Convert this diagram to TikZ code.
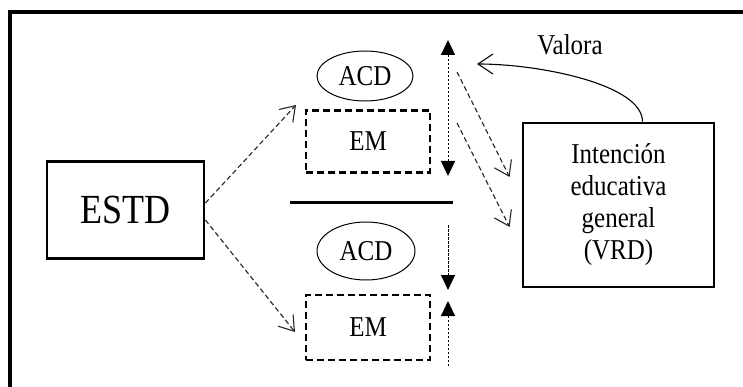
\documentclass[tikz,border=0pt]{standalone}
\usepackage{fontspec}
\setmainfont{Liberation Serif}
\usetikzlibrary{arrows.meta,calc,shapes.geometric}
\newcommand{\tall}[1]{\scalebox{1}[1.15]{#1}}
\begin{document}
\begin{tikzpicture}[x=1pt,y=-1pt,
  solidbox/.style={draw, line width=2.8pt, inner sep=0pt},
  dbox/.style={draw, line width=2.8pt, dash pattern=on 7pt off 4pt, minimum width=124pt, inner sep=0pt, font=\fontsize{25}{25}\selectfont},
  oval/.style={ellipse, inner sep=0pt, font=\fontsize{25}{25}\selectfont},
  ovalline/.style={line width=1pt},
  darr/.style={draw=black!85, line width=1.1pt, dash pattern=on 5pt off 3pt, -{Straight Barb[length=14pt,width=19pt,line width=1.1pt]}},
  varr/.style={draw, line width=0.9pt, dash pattern=on 2.5pt off 1.5pt, -{Triangle[length=15pt,width=14pt]}},
  vdarr/.style={draw, line width=0.9pt, dash pattern=on 2.5pt off 1.5pt, {Triangle[length=15pt,width=14pt]}-{Triangle[length=15pt,width=14pt]}},
]
\useasboundingbox (0,0) rectangle (743,387);
\draw[line width=3.5pt, line join=miter] (10,392) -- (10,12) -- (748,12);

\node[solidbox, minimum width=157pt, minimum height=97pt, font=\fontsize{36}{36}\selectfont] (estd) at (125.5,210) {\tall{ESTD}};
\node[oval] (acd1) at (365,76) {\tall{ACD}};
\draw[ovalline] (acd1.center) ellipse [x radius=48, y radius=25];
\node[dbox, minimum height=62pt] (em1) at (368,141.5) {\tall{EM}};
\node[oval] (acd2) at (366,251) {\tall{ACD}};
\draw[ovalline] (acd2.center) ellipse [x radius=49, y radius=29];
\node[dbox, minimum height=65pt] (em2) at (368,327.5) {\tall{EM}};
\node[solidbox, minimum width=191pt, minimum height=164pt, align=center, font=\fontsize{25}{32}\selectfont] (vrd) at (618.5,205) {\tall{Intención}\\\tall{educativa}\\\tall{general}\\\tall{(VRD)}};
\node[font=\fontsize{25}{25}\selectfont] (valora) at (570,45) {\tall{Valora}};

\coordinate (sep1) at (290,203);
\coordinate (sep2) at (453,203);
\draw[line width=3pt] (sep1) -- (sep2);

% ESTD arrows
\coordinate (t1) at (296,105);
\coordinate (t2) at (295,332);
\path[darr] ([yshift=7pt]estd.east) -- (t1);
\path[darr] ([yshift=-10pt]estd.east) -- (t2);

% arrows to VRD
\coordinate (s1) at (457,72);
\coordinate (s2) at (457,123);
\path[darr] (s1) -- ([xshift=-12pt,yshift=28pt]vrd.west);
\path[darr] (s2) -- ([xshift=-12pt,yshift=-22pt]vrd.west);

% vertical dotted arrows
\coordinate (v1a) at (448,40);
\coordinate (v1b) at (448,176);
\path[vdarr] (v1a) -- (v1b);
\coordinate (v2a) at (448,225);
\coordinate (v2b) at (448,290);
\path[varr] (v2a) -- (v2b);
\coordinate (v3a) at (448,366);
\coordinate (v3b) at (448,301);
\path[varr] (v3a) -- (v3b);

% Valora arrow
\coordinate (vt) at (477,64);
\draw[line width=1.1pt, -{Straight Barb[length=15pt,width=20pt,line width=1.1pt]}] ([xshift=24pt]vrd.north) .. controls ([xshift=24pt,yshift=37pt]vrd.north) and (540,64) .. (vt);
\end{tikzpicture}
\end{document}
